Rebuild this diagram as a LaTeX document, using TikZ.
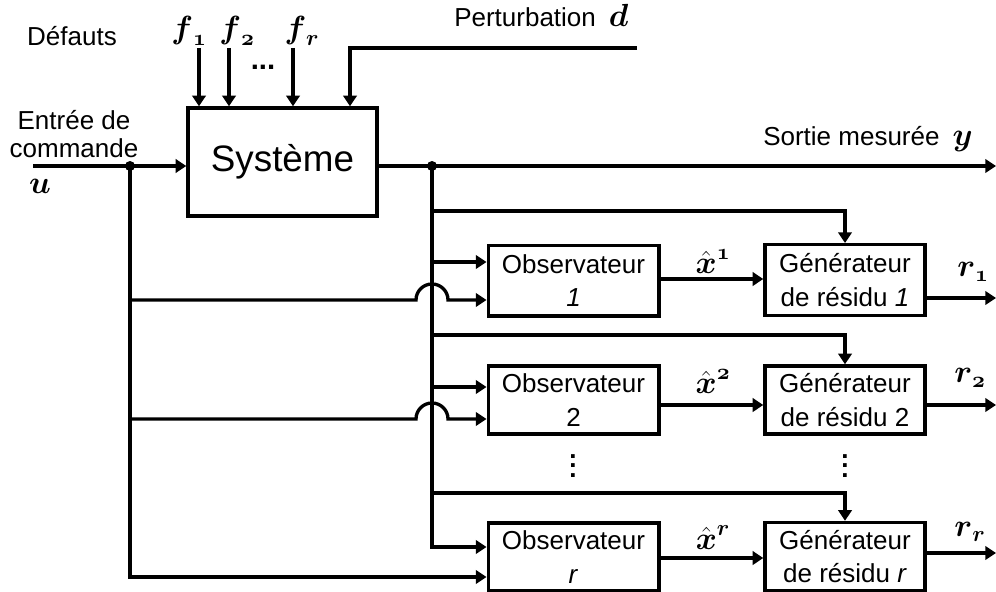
\RequirePackage{fix-cm}
\documentclass[tikz,border=0pt]{standalone}
\usepackage{amsmath}
\usepackage{fontspec}
\setmainfont{Liberation Sans}
\usetikzlibrary{arrows.meta}
\newcommand\labfont{\fontsize{19.5}{25}\selectfont}
\newcommand\sysfont{\fontsize{27.6}{30}\selectfont}
\newcommand\mfont{\fontsize{24}{26}\selectfont}
\newcommand\bnum[1]{\boldsymbol{\mathnormal{#1}}}
\newcommand\myvdots{\vbox{\baselineskip=6.8pt\lineskiplimit=-10pt\hbox{\textbf{.}}\hbox{\textbf{.}}\hbox{\textbf{.}}}}
\tikzset{
  wire/.style={line width=2.5pt},
  arr/.style={wire,-{Triangle[length=8pt,width=10pt]}},
  blk/.style={draw,line width=2.5pt,minimum height=53pt,inner sep=0pt,align=center,font=\labfont},
  obsbox/.style={blk,minimum width=128pt},
  genbox/.style={blk,minimum width=120pt},
  lbl/.style={inner sep=0pt,font=\labfont,align=center},
  mlbl/.style={inner sep=0pt,font=\mfont}
}
\begin{document}
\begin{tikzpicture}[x=0.75pt,y=-0.75pt]
\useasboundingbox (0,0) rectangle (996,592);

% blocks
\node[blk,minimum width=141.75pt,minimum height=81pt,font=\sysfont] (sys) at (282.5,162) {Système};
\node[obsbox] (obs1) at (573.5,280.5) {Observateur\\\textit{1}};
\node[obsbox,minimum height=51pt] (obs2) at (573.5,400) {Observateur\\2};
\node[obsbox,minimum height=51pt] (obsr) at (573.5,557) {Observateur\\\textit{r}};
\node[genbox] (gen1) at (845,280) {Générateur\\de résidu \textit{1}};
\node[genbox,minimum height=51pt] (gen2) at (845,400) {Générateur\\de résidu 2};
\node[genbox,minimum height=51pt] (genr) at (845,556.5) {Générateur\\de résidu \textit{r}};

% labels
\node[lbl] (defauts) at (72,36) {Défauts};
\node[mlbl] (f1) at (189,31) {$\boldsymbol{f}_{\bnum{1}}$};
\node[mlbl] (f2) at (237,31) {$\boldsymbol{f}_{\bnum{2}}$};
\node[mlbl] (fr) at (302,31) {$\boldsymbol{f}_{\boldsymbol{r}}$};
\node[lbl,font=\fontsize{22}{24}\selectfont\bfseries] (fdots) at (263,67) {...};
\node[lbl,anchor=base west] (pert) at (454,27) {Perturbation\enspace{\mfont$\boldsymbol{d}$}};
\node[lbl,font=\fontsize{19.5}{21}\selectfont] (entree) at (74,134) {Entrée de\\commande};
\node[mlbl] (u) at (40,186) {$\boldsymbol{u}$};
\node[lbl,anchor=base west] (sortie) at (763,145) {Sortie mesurée\enspace{\mfont$\boldsymbol{y}$}};
\node[mlbl] (xh1) at (713,262) {$\hat{\boldsymbol{x}}^{\bnum{1}}$};
\node[mlbl] (xh2) at (713,382) {$\hat{\boldsymbol{x}}^{\bnum{2}}$};
\node[mlbl] (xhr) at (713,538) {$\hat{\boldsymbol{x}}^{\boldsymbol{r}}$};
\node[mlbl] (r1) at (973,272) {$\boldsymbol{r}_{\bnum{1}}$};
\node[mlbl] (r2) at (970,378) {$\boldsymbol{r}_{\bnum{2}}$};
\node[mlbl] (rr) at (970,532) {$\boldsymbol{r}_{\boldsymbol{r}}$};
\node[lbl] (vd1) at (573,466) {\myvdots};
\node[lbl] (vd2) at (845,466) {\myvdots};

% coordinates
\coordinate (xf1) at (199,48);
\coordinate (xf2) at (229,48);
\coordinate (xfr) at (293,48);
\coordinate (xd) at (350,48);
\coordinate (dend) at (637,48);
\coordinate (uin) at (33,166);
\coordinate (uj) at (130,166);
\coordinate (yj) at (432,166);
\coordinate (yout) at (996,166);
\coordinate (ubot) at (130,577);
\coordinate (ybot) at (432,547);
\coordinate (b1) at (432,211);
\coordinate (b2) at (432,335);
\coordinate (b3) at (432,493);
\coordinate (o1u) at (432,262);
\coordinate (o2u) at (432,387);
\coordinate (o1l) at (130,300);
\coordinate (o2l) at (130,419);
\coordinate (x1) at (0,279);
\coordinate (x2) at (0,405);
\coordinate (xr) at (0,558);
\coordinate (r1o) at (996,298);
\coordinate (r2o) at (996,405);
\coordinate (rro) at (996,553);

% faults and disturbance
\draw[arr] (xf1) -- (sys.north -| xf1);
\draw[arr] (xf2) -- (sys.north -| xf2);
\draw[arr] (xfr) -- (sys.north -| xfr);
\draw[arr] (dend) -- (xd) -- (sys.north -| xd);

% input and output
\draw[arr] (uin) -- (sys.west |- uin);
\draw[arr] (sys.east |- yout) -- (yout);
\fill (uj) circle (3.75pt);
\fill (yj) circle (3.75pt);

% buses
\draw[arr] (uj) -- (ubot) -- (obsr.west |- ubot);
\draw[arr] (yj) -- (ybot) -- (obsr.west |- ybot);

% y branches to generators
\draw[arr] (b1) -| (gen1.north);
\draw[arr] (b2) -| (gen2.north);
\draw[arr] (b3) -| (genr.north);

% observer inputs
\draw[arr] (o1u) -- (obs1.west |- o1u);
\draw[arr] (o2u) -- (obs2.west |- o2u);
\draw[arr] (o1l) -- ([xshift=-12pt]o1l -| yj) arc[start angle=180,end angle=0,radius=12pt] -- (obs1.west |- o1l);
\draw[arr] (o2l) -- ([xshift=-12pt]o2l -| yj) arc[start angle=180,end angle=0,radius=12pt] -- (obs2.west |- o2l);

% estimates to generators
\draw[arr] (obs1.east |- x1) -- (gen1.west |- x1);
\draw[arr] (obs2.east |- x2) -- (gen2.west |- x2);
\draw[arr] (obsr.east |- xr) -- (genr.west |- xr);

% residual outputs
\draw[arr] (gen1.east |- r1o) -- (r1o);
\draw[arr] (gen2.east |- r2o) -- (r2o);
\draw[arr] (genr.east |- rro) -- (rro);
\end{tikzpicture}
\end{document}
